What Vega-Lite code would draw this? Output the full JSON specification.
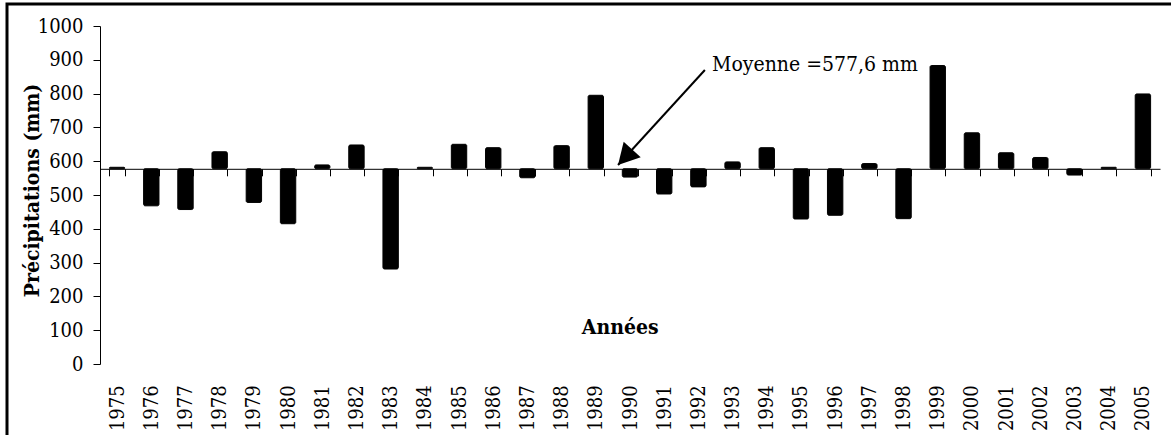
{
  "$schema": "https://vega.github.io/schema/vega-lite/v6.json",
  "autosize": "none",
  "padding": {"left": 7, "top": 4, "right": 0, "bottom": 0},
  "width": 1176,
  "height": 440,
  "background": "white",
  "config": {
    "view": {"stroke": "black", "strokeWidth": 3},
    "font": "DejaVu Serif Condensed, DejaVu Serif",
    "axis": {
      "labelFont": "DejaVu Serif Condensed, DejaVu Serif",
      "titleFont": "DejaVu Serif Condensed, DejaVu Serif",
      "labelColor": "black",
      "titleColor": "black",
      "domainColor": "black",
      "tickColor": "black",
      "labelFontSize": 20,
      "titleFontSize": 21,
      "titleFontWeight": "bold",
      "grid": false
    }
  },
  "layer": [
    {
      "data": {
        "values": [
          {"year": 1975, "precip": 582},
          {"year": 1976, "precip": 468},
          {"year": 1977, "precip": 457},
          {"year": 1978, "precip": 628},
          {"year": 1979, "precip": 478},
          {"year": 1980, "precip": 415},
          {"year": 1981, "precip": 589},
          {"year": 1982, "precip": 648},
          {"year": 1983, "precip": 281},
          {"year": 1984, "precip": 582},
          {"year": 1985, "precip": 650},
          {"year": 1986, "precip": 640},
          {"year": 1987, "precip": 551},
          {"year": 1988, "precip": 646},
          {"year": 1989, "precip": 795},
          {"year": 1990, "precip": 553},
          {"year": 1991, "precip": 503},
          {"year": 1992, "precip": 524},
          {"year": 1993, "precip": 598},
          {"year": 1994, "precip": 640},
          {"year": 1995, "precip": 429},
          {"year": 1996, "precip": 440},
          {"year": 1997, "precip": 593},
          {"year": 1998, "precip": 430},
          {"year": 1999, "precip": 883},
          {"year": 2000, "precip": 684},
          {"year": 2001, "precip": 625},
          {"year": 2002, "precip": 611},
          {"year": 2003, "precip": 559},
          {"year": 2004, "precip": 582},
          {"year": 2005, "precip": 799}
        ]
      },
      "mark": {"type": "bar", "color": "black", "stroke": "black", "strokeWidth": 1, "cornerRadius": 1.5},
      "encoding": {
        "x": {
          "field": "year",
          "type": "ordinal",
          "scale": {"range": [93, 1153], "paddingInner": 0.55, "paddingOuter": 0.275},
          "axis": {
            "orient": "bottom",
            "offset": -275.2,
            "tickBand": "extent",
            "tickSize": 7,
            "tickWidth": 1,
            "labelAngle": -90,
            "labelPadding": 209,
            "labelOverlap": false,
            "title": "Années",
            "titleX": 612.7,
            "titleY": 164.5,
            "titleAlign": "center",
            "titleBaseline": "alphabetic",
            "titleAngle": 0
          }
        },
        "y": {
          "field": "precip",
          "type": "quantitative",
          "scale": {"domain": [0, 1000], "range": [360, 22], "nice": false, "zero": false},
          "axis": {
            "orient": "left",
            "offset": -93,
            "format": "d",
            "values": [0, 100, 200, 300, 400, 500, 600, 700, 800, 900, 1000],
            "tickSize": 7,
            "labelPadding": 10,
            "title": "Précipitations (mm)",
            "titleX": -62,
            "titleY": 186,
            "titleAngle": -90,
            "titleAlign": "center",
            "titleBaseline": "alphabetic"
          }
        },
        "y2": {"datum": 577.6}
      }
    },
    {
      "data": {
        "values": [
          {"x": 1992.19, "y": 869.8, "x2": 1989.65, "y2": 588.8, "label": "Moyenne =577,6 mm", "tx": 1992.4, "ty": 866.9}
        ]
      },
      "encoding": {},
      "layer": [
        {
          "mark": {"type": "rule", "color": "black", "strokeWidth": 2},
          "encoding": {
            "x": {"field": "x", "type": "quantitative", "scale": {"domain": [1974.5, 2005.5], "range": [93, 1153], "nice": false, "zero": false}, "axis": null},
            "y": {
              "field": "y",
              "type": "quantitative",
              "axis": {
                "orient": "left",
                "offset": -93,
                "format": "d",
                "values": [0, 100, 200, 300, 400, 500, 600, 700, 800, 900, 1000],
                "tickSize": 7,
                "labelPadding": 10,
                "title": "Précipitations (mm)",
                "titleX": -62,
                "titleY": 186,
                "titleAngle": -90,
                "titleAlign": "center",
                "titleBaseline": "alphabetic"
              }
            },
            "x2": {"field": "x2"},
            "y2": {"field": "y2"}
          }
        },
        {
          "mark": {"type": "point", "shape": "M0,0L0.55,1L-0.55,1Z", "filled": true, "color": "black", "opacity": 1, "size": 1764, "angle": 222.4},
          "encoding": {
            "x": {"field": "x2", "type": "quantitative", "axis": null},
            "y": {
              "field": "y2",
              "type": "quantitative",
              "axis": {
                "orient": "left",
                "offset": -93,
                "format": "d",
                "values": [0, 100, 200, 300, 400, 500, 600, 700, 800, 900, 1000],
                "tickSize": 7,
                "labelPadding": 10,
                "title": "Précipitations (mm)",
                "titleX": -62,
                "titleY": 186,
                "titleAngle": -90,
                "titleAlign": "center",
                "titleBaseline": "alphabetic"
              }
            }
          }
        },
        {
          "mark": {"type": "text", "align": "left", "baseline": "alphabetic", "font": "DejaVu Serif Condensed, DejaVu Serif", "fontSize": 21, "color": "black"},
          "encoding": {
            "x": {"field": "tx", "type": "quantitative", "axis": null},
            "y": {
              "field": "ty",
              "type": "quantitative",
              "axis": {
                "orient": "left",
                "offset": -93,
                "format": "d",
                "values": [0, 100, 200, 300, 400, 500, 600, 700, 800, 900, 1000],
                "tickSize": 7,
                "labelPadding": 10,
                "title": "Précipitations (mm)",
                "titleX": -62,
                "titleY": 186,
                "titleAngle": -90,
                "titleAlign": "center",
                "titleBaseline": "alphabetic"
              }
            },
            "text": {"field": "label"}
          }
        }
      ]
    }
  ],
  "resolve": {"scale": {"x": "independent"}}
}
